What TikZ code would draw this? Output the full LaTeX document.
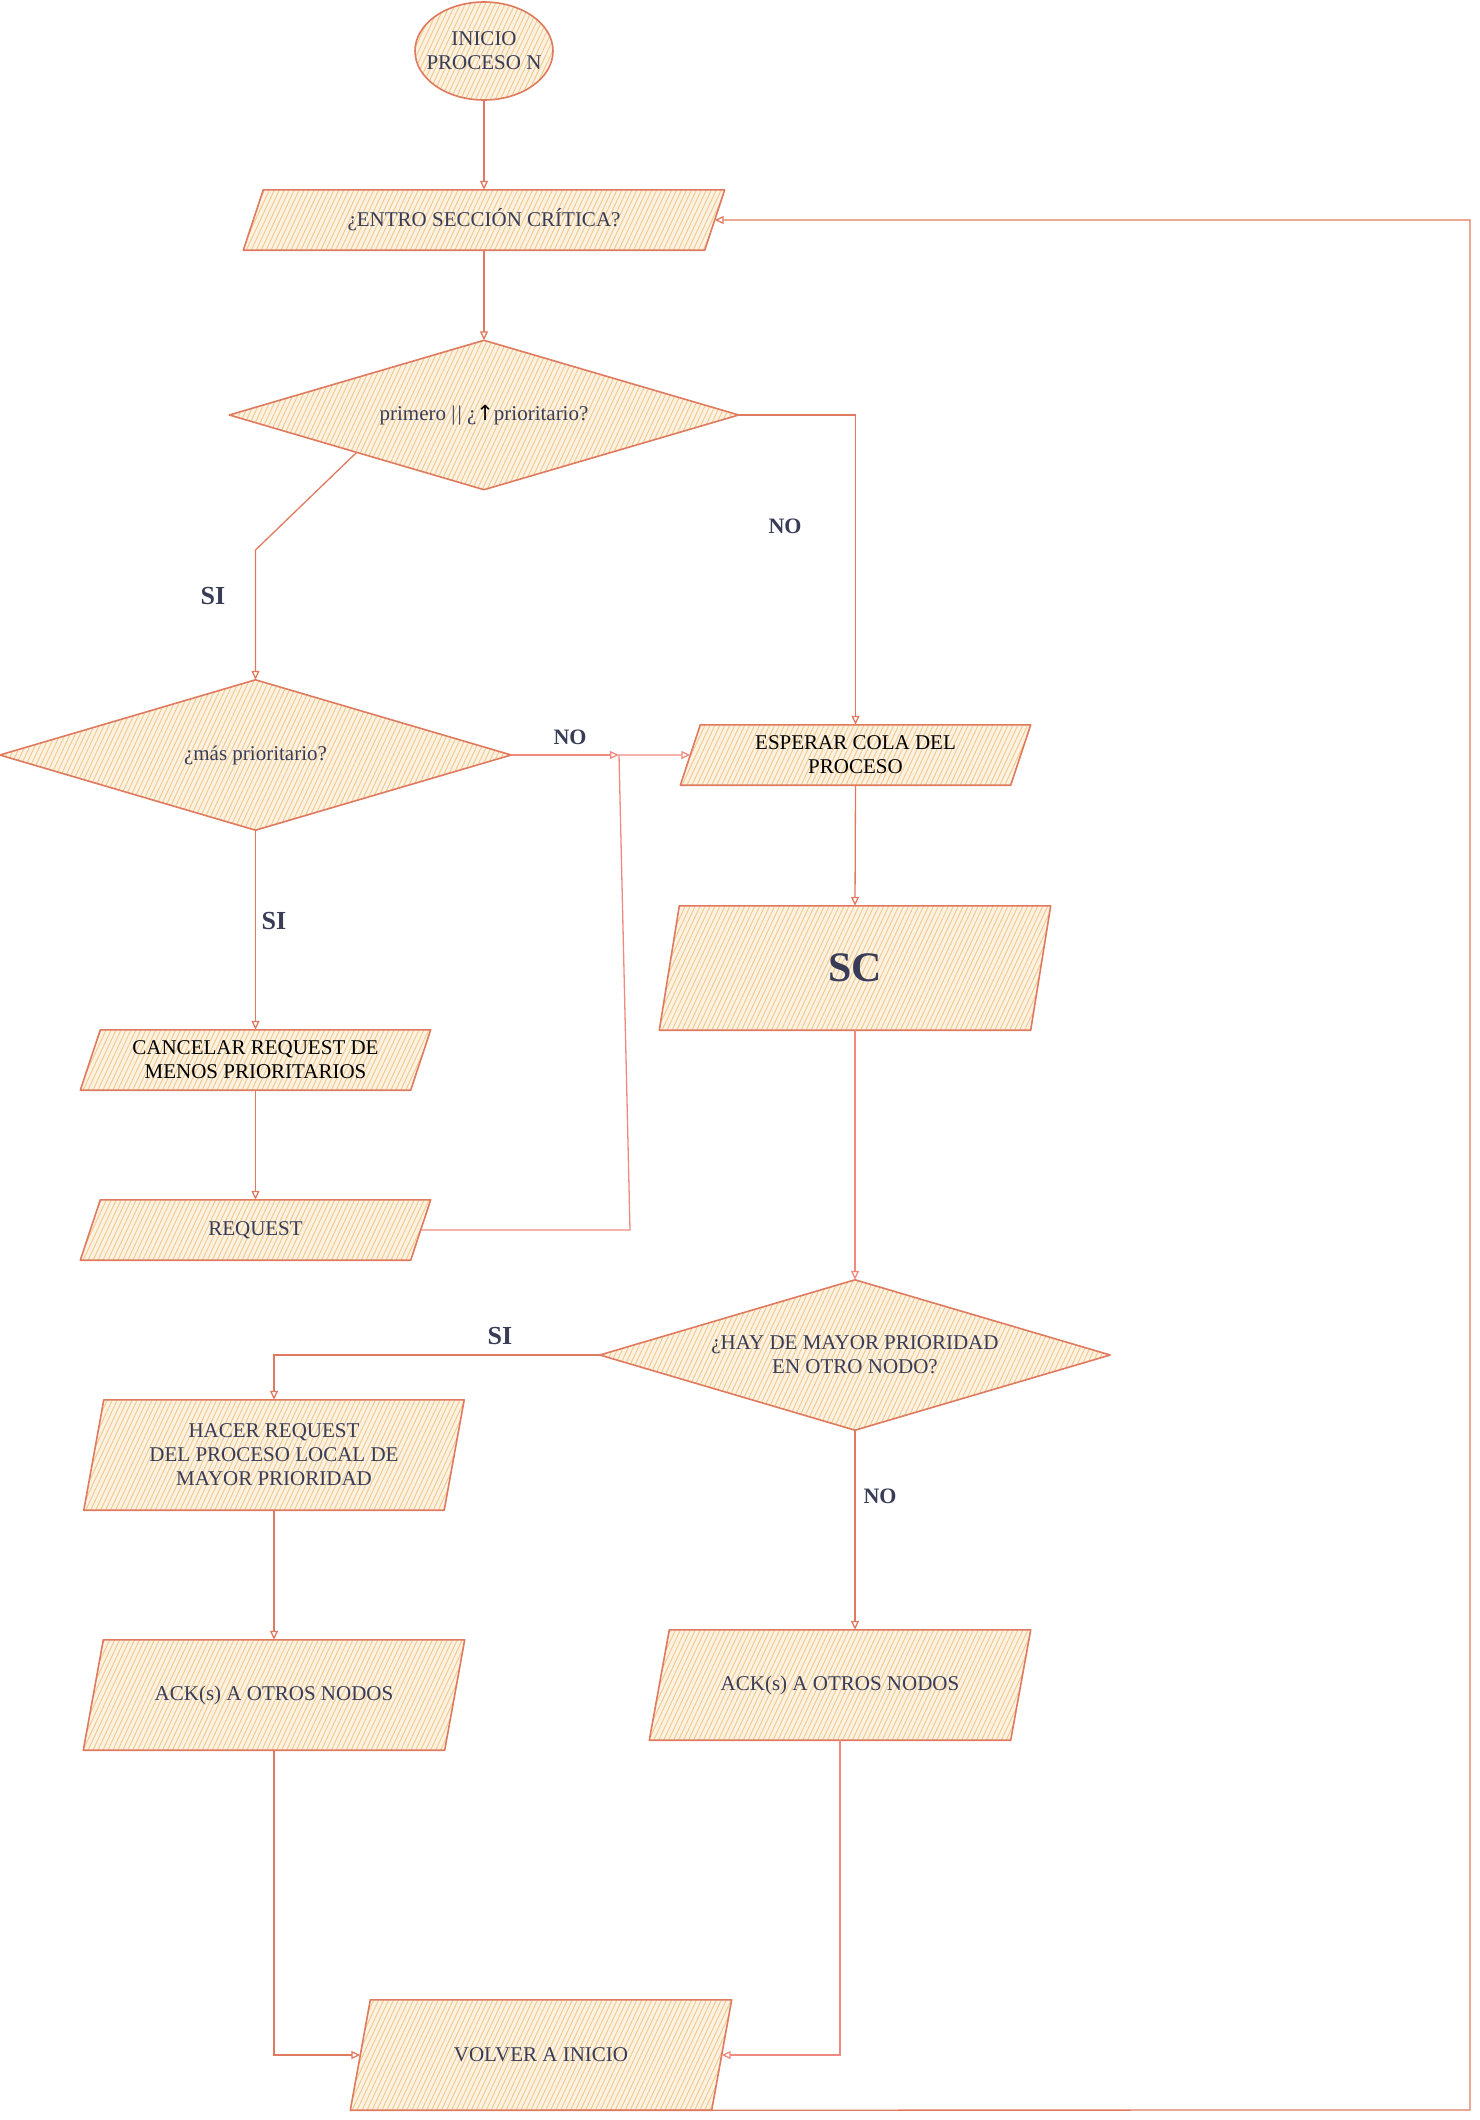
\documentclass[tikz,border=0pt]{standalone}
\usepackage{fontspec}
\setmainfont{Liberation Serif}
\newfontfamily\symfont{DejaVu Sans}
\usetikzlibrary{shapes.geometric,patterns.meta,arrows.meta,calc}
\definecolor{strk}{HTML}{E07A5F}
\definecolor{pnk}{HTML}{F08A80}
\definecolor{fll}{HTML}{F2CC8F}
\definecolor{txt}{HTML}{393C56}
\pgfdeclarelayer{bg}
\pgfsetlayers{bg,main}
\begin{document}
\begin{tikzpicture}[x=1pt,y=-1pt,
  shp/.style={draw=strk, line width=1.6pt, line join=round,
    preaction={fill=fll!25},
    pattern={Lines[angle=65,distance=4.5pt,line width=1pt]}, pattern color=fll},
  box/.style={inner sep=0pt, align=center, text=txt, font=\fontsize{21}{24}\selectfont},
  conn/.style={draw=strk, line width=1.3pt, -{Triangle[open,length=9pt,width=8pt]}},
  conn2/.style={conn, draw=pnk},
  lbl/.style={text=txt, font=\bfseries\fontsize{22}{26}\selectfont},
  lblbig/.style={text=txt, font=\bfseries\fontsize{26}{30}\selectfont}]
\useasboundingbox (0,0) rectangle (1480,2120);

% nodes
\node[box, minimum width=138, minimum height=98] (start) at (484,51) {INICIO\\PROCESO N};
\node[box, minimum width=461, minimum height=60] (entro) at (484,220) {¿ENTRO SECCIÓN CRÍTICA?};
\node[box, minimum width=509, minimum height=149] (d1) at (484,415) {primero |\kern2pt| ¿{\symfont\color{black}↑}prioritario?};
\node[box, minimum width=511, minimum height=150] (d2) at (255.5,755) {¿más prioritario?};
\node[box, text=black, minimum width=330, minimum height=60] (esperar) at (855.5,755) {ESPERAR COLA DEL\\PROCESO};
\node[box, minimum width=371, minimum height=124, font=\bfseries\fontsize{42}{48}\selectfont] (sc) at (855,968) {SC};
\node[box, text=black, minimum width=330, minimum height=60] (cancelar) at (255.5,1060) {CANCELAR REQUEST DE\\MENOS PRIORITARIOS};
\node[box, minimum width=330, minimum height=60] (request) at (255.5,1230) {REQUEST};
\node[box, minimum width=510, minimum height=150] (d3) at (855,1355) {¿HAY DE MAYOR PRIORIDAD\\EN OTRO NODO?};
\node[box, minimum width=360, minimum height=110] (hacer) at (274,1455) {HACER REQUEST\\DEL PROCESO LOCAL DE\\MAYOR PRIORIDAD};
\node[box, minimum width=361, minimum height=110] (ackl) at (274,1695) {ACK(s) A OTROS NODOS};
\node[box, minimum width=361, minimum height=110] (ackr) at (840,1685) {ACK(s) A OTROS NODOS};
\node[box, minimum width=361, minimum height=110] (volver) at (541,2055) {VOLVER A INICIO};

% shapes behind texts
\begin{pgfonlayer}{bg}
\path[shp] (start.center) ellipse [x radius=69, y radius=49];
\foreach \n in {entro,esperar,sc,cancelar,request,hacer,ackl,ackr,volver}
  \path[shp] ([xshift=10pt]\n.north west) -- ([xshift=10pt]\n.north east)
     -- ([xshift=-10pt]\n.south east) -- ([xshift=-10pt]\n.south west) -- cycle;
\foreach \n in {d1,d2,d3}
  \path[shp] (\n.north) -- (\n.east) -- (\n.south) -- (\n.west) -- cycle;
\end{pgfonlayer}

% labels
\node[lblbig] (si1) at (213,596) {SI};
\node[lbl] (no1) at (785,526) {NO};
\node[lbl] (no2) at (570,737) {NO};
\node[lblbig] (si2) at (274,921) {SI};
\node[lblbig] (si3) at (500,1336) {SI};
\node[lbl] (no3) at (880,1496) {NO};

% bend points
\coordinate (b1) at (255.5,550);
\coordinate (j) at (619,755);
\coordinate (rq) at (630,1230);
\coordinate (lb) at (1470,2110);

% connectors
\draw[conn] (start.south) -- (entro.north);
\draw[conn] (entro.south) -- (d1.north);
\draw[conn] ($(d1.west)!0.5!(d1.south)$) -- (b1) -- (d2.north);
\draw[conn] (d1.east) -| (esperar.north);
\draw[conn2] (d2.east) -- (j);
\draw[conn2] (request.east) -- (rq) -- (j) -- (esperar.west);
\draw[conn] (d2.south) -- (cancelar.north);
\draw[conn] (cancelar.south) -- (request.north);
\draw[conn] (esperar.south) -- (sc.north);
\draw[conn2] (sc.south) -- (d3.north);
\draw[conn] (d3.west) -| (hacer.north);
\draw[conn] (hacer.south) -- (ackl.north);
\draw[conn] (d3.south) -- (d3.south |- ackr.north);
\draw[conn] (ackl.south) |- (volver.west);
\draw[conn2] (ackr.south) |- (volver.east);
\draw[conn] (volver.south) -- (lb) |- (entro.east);
\end{tikzpicture}
\end{document}
